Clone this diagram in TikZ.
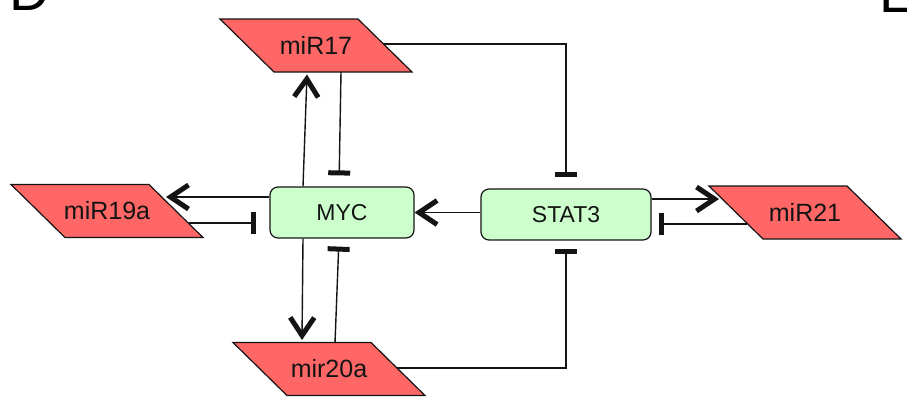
\documentclass[tikz,border=0pt]{standalone}
\usepackage{fontspec}
\setmainfont{Liberation Sans}
\usetikzlibrary{arrows.meta,calc}
\definecolor{mirred}{HTML}{FF6666}
\definecolor{gfill}{HTML}{CCFFCC}
\definecolor{edgec}{HTML}{141414}
\newcommand\mirnode[3]{%
  \filldraw[mirshape] ($(#2)+(-96,-26.5)$) -- ($(#2)+(42,-26.5)$) --
    ($(#2)+(96,26.5)$) -- ($(#2)+(-42,26.5)$) -- cycle;
  \node[mir] (#1) at (#2) {#3};}
\begin{document}
\begin{tikzpicture}[x=1pt,y=-1pt,
  mirshape/.style={fill=mirred, draw=edgec, line width=1.2pt, line join=miter},
  mir/.style={rectangle, minimum width=138pt, minimum height=53pt,
    inner sep=0pt, text=edgec, font=\fontsize{25}{25}\selectfont},
  gene/.style={rectangle, rounded corners=8pt, fill=gfill, draw=edgec,
    line width=1.2pt, minimum height=51pt, inner sep=0pt, text=edgec,
    font=\fontsize{23}{23}\selectfont},
  act/.style={draw=edgec, line width=1.4pt,
    -{Straight Barb[length=18pt,width=24pt,line width=5pt]}},
  inh/.style={draw=edgec, line width=1.4pt, -{Bar[width=22pt,line width=5pt]}},
  panel/.style={inner sep=0pt, anchor=base west, font=\fontsize{56}{56}\selectfont}
]
\useasboundingbox (0,0) rectangle (907,405);
\clip (0,0) rectangle (907,405);
\fill[white] (0,0) rectangle (907,405);

\node[panel] (lblD) at (9,10) {D};
\node[panel] (lblE) at (879,12) {E};

\mirnode{miR17}{316,45.5}{miR17}
\mirnode{miR19a}{107,211}{miR19a}
\mirnode{mir20a}{329,369}{mir20a}
\mirnode{miR21}{805,212.5}{miR21}
\node[gene, minimum width=144pt] (MYC) at (342,212.5) {MYC};
\node[gene, minimum width=170pt] (STAT3) at (566,214.5) {STAT3};

% MYC <-> miR17
\draw[act] ($(MYC.north)+(-39,0)$) -- ($(miR17.center)+(-9,29)$);
\draw[inh, shorten >=11pt] ($(miR17.center)+(25,26.5)$) -- ($(MYC.north)+(-3,0)$);
% miR17 -| STAT3
\draw[inh, shorten >=11pt] ($(miR17.center)+(67,-1.5)$) -| (STAT3.north);
% MYC <-> miR19a
\draw[act] ($(MYC.west)+(0,-15.5)$) -- ($(miR19a.center)+(59,-14)$);
\draw[inh, shorten >=13pt] ($(miR19a.center)+(82,12)$) -- ($(MYC.west)+(0,10.5)$);
% STAT3 -> MYC
\draw[act] (STAT3.west |- MYC.east) -- (MYC.east);
% STAT3 <-> miR21
\draw[act] ($(STAT3.east)+(0,-15.5)$) -- ($(miR21.center)+(-86,-13.5)$);
\draw[inh, shorten >=7pt] ($(miR21.center)+(-58,11.5)$) -- ($(STAT3.east)+(0,9.5)$);
% MYC <-> mir20a
\draw[act] ($(MYC.south)+(-39,0)$) -- ($(mir20a.center)+(-27,-29)$);
\draw[inh, shorten >=8pt] ($(mir20a.center)+(6,-26)$) -- ($(MYC.south)+(-3,0)$);
% mir20a -| STAT3
\draw[inh, shorten >=8pt] ($(mir20a.center)+(68,-1)$) -| (STAT3.south);
\end{tikzpicture}
\end{document}
